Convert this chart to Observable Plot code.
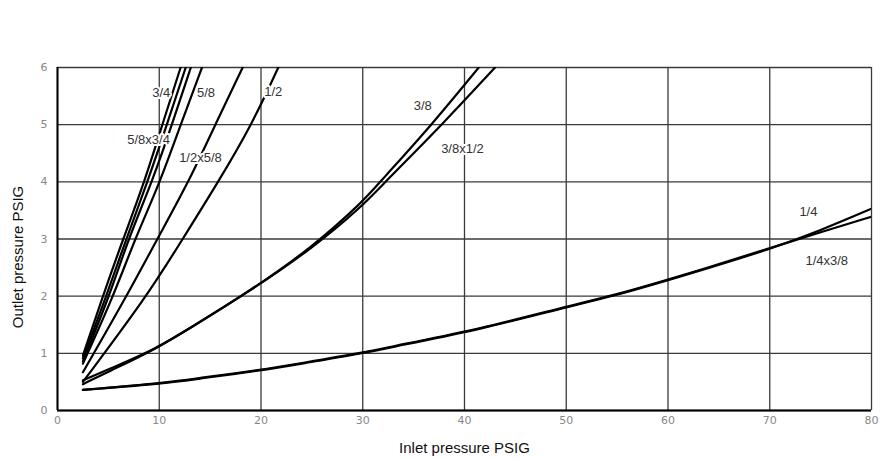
<!DOCTYPE html>
<html>
<head>
<meta charset="utf-8">
<script src="https://cdn.jsdelivr.net/npm/d3@7"></script>
<script src="https://cdn.jsdelivr.net/npm/@observablehq/plot@0.6"></script>
<style>
  html, body { margin: 0; padding: 0; background: #fff; }
  #chart svg { display: block; }
</style>
</head>
<body>
<div id="chart"></div>
<script>
// Tick values
const xTicks = [0, 10, 20, 30, 40, 50, 60, 70, 80];
const yTicks = [0, 1, 2, 3, 4, 5, 6];

// Series (inlet PSIG -> outlet PSIG)
const s34_x    = [2.5, 4.45, 6.45, 8.55, 10.3, 12.1];
const s34_y    = [0.96, 2.0, 3.0, 4.0, 5.0, 6.0];
const s58x34_x = [2.5, 4.8, 6.75, 8.85, 10.75, 12.6];
const s58x34_y = [0.91, 2.0, 3.0, 4.0, 5.0, 6.0];
const s3rd_x   = [2.5, 5.1, 6.95, 9.3, 11.25, 13.1];
const s3rd_y   = [0.86, 2.0, 3.0, 4.0, 5.0, 6.0];
const s58_x    = [2.5, 5.5, 7.6, 10.1, 12.1, 14.2];
const s58_y    = [0.82, 2.0, 3.0, 4.0, 5.0, 6.0];
const s12x58_x = [2.5, 6.8, 9.8, 12.9, 15.5, 18.2];
const s12x58_y = [0.67, 2.0, 3.0, 4.0, 5.0, 6.0];
const s12_x    = [2.5, 8.8, 12.3, 15.8, 19.1, 21.7];
const s12_y    = [0.5, 2.0, 3.0, 4.0, 5.0, 6.0];
const s38_x    = [2.5, 5, 9.4, 13.1, 19, 25, 30, 31.7, 36.8, 41.4];
const s38_y    = [0.53, 0.72, 1.05, 1.45, 2.1, 2.85, 3.65, 4.0, 5.0, 6.0];
const s38x12_x = [2.5, 5, 9.4, 13.1, 19, 25, 30, 32.2, 37.8, 43.0];
const s38x12_y = [0.46, 0.68, 1.05, 1.45, 2.1, 2.83, 3.58, 4.0, 5.0, 6.0];
const s14_x    = [2.5, 10.4, 14, 20, 24, 30, 33.7, 41.6, 49.8, 54.6, 59.8, 63.2, 70, 75, 80];
const s14_y    = [0.36, 0.47, 0.56, 0.70, 0.82, 1.0, 1.14, 1.42, 1.80, 2.0, 2.27, 2.45, 2.82, 3.15, 3.53];
const s14x38_x = [2.5, 10.4, 14, 20, 24, 30, 33.7, 41.6, 49.8, 54.6, 59.8, 63.2, 70, 75, 80];
const s14x38_y = [0.36, 0.48, 0.57, 0.71, 0.83, 1.01, 1.15, 1.43, 1.81, 2.01, 2.28, 2.46, 2.84, 3.12, 3.39];

// Curve labels
const labelText = ["3/4", "5/8", "1/2", "5/8x3/4", "1/2x5/8", "3/8", "3/8x1/2", "1/4", "1/4x3/8"];
const labelX    = [10.2, 14.6, 21.2, 8.95, 14.05, 35.9, 39.8, 73.8, 75.6];
const labelY    = [5.55, 5.55, 5.58, 4.74, 4.42, 5.33, 4.58, 3.48, 2.62];

const seriesList = [
  [s34_x, s34_y], [s58x34_x, s58x34_y], [s3rd_x, s3rd_y], [s58_x, s58_y],
  [s12x58_x, s12x58_y], [s12_x, s12_y], [s38_x, s38_y], [s38x12_x, s38x12_y],
  [s14_x, s14_y], [s14x38_x, s14x38_y]
];
const pts = (xs, ys) => xs.map((x, i) => ({x, y: ys[i]}));
const labels = labelText.map((t, i) => ({t, x: labelX[i], y: labelY[i]}));

const lineMarks = seriesList.map(([xs, ys]) =>
  Plot.line(pts(xs, ys), {x: "x", y: "y", stroke: "#000", strokeWidth: 2.2, curve: "basis", clip: true})
);

const chart = Plot.plot({
  width: 893,
  height: 459,
  marginLeft: 57,
  marginRight: 22,
  marginTop: 67,
  marginBottom: 49,
  style: {fontFamily: "'Liberation Sans', Arial, sans-serif", background: "#fff"},
  x: {domain: [0, 80], ticks: xTicks},
  y: {domain: [0, 6], ticks: yTicks},
  marks: [
    Plot.gridX(xTicks, {stroke: "#3a3a3a", strokeOpacity: 1, strokeWidth: 1.3}),
    Plot.gridY(yTicks, {stroke: "#3a3a3a", strokeOpacity: 1, strokeWidth: 1.3}),
    ...lineMarks,
    Plot.text(labels, {x: "x", y: "y", text: "t", fontSize: 13, fill: "#333", stroke: "#fff", strokeWidth: 4, fontFamily: "'Liberation Sans', Arial, sans-serif"}),
    Plot.ruleX([0], {stroke: "#000", strokeWidth: 2}),
    Plot.ruleY([0], {stroke: "#000", strokeWidth: 2}),
    Plot.axisX(xTicks, {tickSize: 0, tickPadding: 6, fontSize: 11, fill: "#888", fontFamily: "'DejaVu Sans', sans-serif", tickFormat: "d", label: null}),
    Plot.axisY(yTicks, {tickSize: 0, tickPadding: 10, fontSize: 11, fill: "#888", fontFamily: "'DejaVu Sans', sans-serif", tickFormat: "d", label: null}),
    Plot.text(["Inlet pressure PSIG"], {frameAnchor: "bottom", dy: 42, fontSize: 15, fill: "#111", fontFamily: "'Liberation Sans', Arial, sans-serif"}),
    Plot.text(["Outlet pressure PSIG"], {frameAnchor: "left", textAnchor: "middle", dx: -39, dy: 18, rotate: -90, fontSize: 15, fill: "#111", fontFamily: "'Liberation Sans', Arial, sans-serif"})
  ]
});
document.getElementById("chart").appendChild(chart);
</script>
</body>
</html>
